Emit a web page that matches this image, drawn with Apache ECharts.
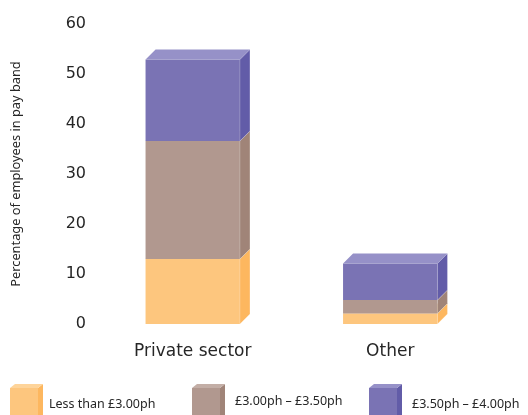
<!DOCTYPE html>
<html>
<head>
<meta charset="utf-8">
<script src="https://cdn.jsdelivr.net/npm/echarts@6/dist/echarts.min.js"></script>
<style>
  html, body { margin: 0; padding: 0; background: #ffffff; }
  #chart { width: 528px; height: 415px; }
</style>
</head>
<body>
<div id="chart"></div>
<script>
// Categories and stacked pay-band shares (% of employees)
const categories = ['Private sector', 'Other'];
const bandNames = ['Less than £3.00ph', '£3.00ph – £3.50ph', '£3.50ph – £4.00ph'];
const lessThan300 = [13.0, 2.1];
const from300to350 = [23.6, 2.7];
const from350to400 = [16.3, 7.3];
const yTicks = [0, 10, 20, 30, 40, 50, 60];

// Face shades for each band: front, side, top
const shades = [
  { front: '#fdc67e', side: '#fdb75f', top: '#fed49a' },
  { front: '#b1988f', side: '#a08478', top: '#c3aea6' },
  { front: '#7a73b4', side: '#625ca8', top: '#9691c8' }
];

const bands = [lessThan300, from300to350, from350to400];
const DEPTH = 10;
const FONT = '"Noto Sans", "Open Sans", sans-serif';
const WIDE_FONT = '"DejaVu Sans", sans-serif';
const TEXT_COLOR = '#262626';

// Build stacked [categoryIndex, base, top] rows per band
function stackedRows(bandIdx) {
  return categories.map((c, i) => {
    let base = 0;
    for (let k = 0; k < bandIdx; k++) base += bands[k][i];
    return [i, base, base + bands[bandIdx][i]];
  });
}

function renderBox(bandIdx) {
  const s = shades[bandIdx];
  return function (params, api) {
    const ci = api.value(0);
    const p0 = api.coord([ci, api.value(1)]);
    const p1 = api.coord([ci, api.value(2)]);
    const bw = api.size([1, 0])[0] * 0.478;
    const x0 = p0[0] - bw / 2;
    const x1 = p0[0] + bw / 2;
    const yb = p0[1];
    const yt = p1[1];
    const d = DEPTH;
    return {
      type: 'group',
      children: [
        {
          type: 'rect',
          shape: { x: x0, y: yt, width: bw, height: yb - yt },
          style: { fill: s.front }
        },
        {
          type: 'polygon',
          shape: { points: [[x1, yb], [x1 + d, yb - d], [x1 + d, yt - d], [x1, yt]] },
          style: { fill: s.side, stroke: 'rgba(255,255,255,0.35)', lineWidth: 0.6 }
        },
        {
          type: 'polygon',
          shape: { points: [[x0, yt], [x0 + d, yt - d], [x1 + d, yt - d], [x1, yt]] },
          style: { fill: s.top }
        }
      ]
    };
  };
}

// Legend drawn as small cubes with labels
const legendIconX = [10, 192, 369];
const legendTextX = [49, 235, 412];
const legendTextY = [404, 401, 404];
const legendGraphics = bandNames.map((name, k) => {
  const s = shades[k];
  const x = legendIconX[k];
  const w = 28, d = 5, yTop = 388;
  return {
    type: 'group',
    children: [
      { type: 'rect', shape: { x: x, y: yTop, width: w, height: 30 }, style: { fill: s.front } },
      { type: 'polygon', shape: { points: [[x + w, yTop], [x + w + d, yTop - 4], [x + w + d, 420], [x + w, 420]] }, style: { fill: s.side } },
      { type: 'polygon', shape: { points: [[x, yTop], [x + d, yTop - 4], [x + w + d, yTop - 4], [x + w, yTop]] }, style: { fill: s.top } },
      {
        type: 'text',
        x: legendTextX[k], y: legendTextY[k],
        style: { text: name, fill: TEXT_COLOR, font: '12.5px ' + FONT, textVerticalAlign: 'middle' }
      }
    ]
  };
});

const chart = echarts.init(document.getElementById('chart'), null, { renderer: 'canvas' });
chart.setOption({
  animation: false,
  backgroundColor: '#ffffff',
  grid: { left: 94, right: 39, top: 24, bottom: 91 },
  xAxis: {
    type: 'category',
    data: categories,
    axisLine: { show: false },
    axisTick: { show: false },
    axisLabel: { color: TEXT_COLOR, fontSize: 17, fontFamily: WIDE_FONT, margin: 19 }
  },
  yAxis: {
    type: 'value',
    min: yTicks[0],
    max: yTicks[yTicks.length - 1],
    interval: 10,
    name: 'Percentage of employees in pay band',
    nameLocation: 'middle',
    nameRotate: 90,
    nameGap: 71,
    nameTextStyle: { color: TEXT_COLOR, fontSize: 12.8, fontFamily: FONT },
    axisLine: { show: false },
    axisTick: { show: false },
    splitLine: { show: false },
    axisLabel: { color: TEXT_COLOR, fontSize: 16, fontFamily: WIDE_FONT, margin: 8, padding: [0, 0, 4, 0] }
  },
  series: bands.map((b, k) => ({
    type: 'custom',
    name: bandNames[k],
    renderItem: renderBox(k),
    encode: { x: 0, y: [1, 2] },
    data: stackedRows(k)
  })),
  graphic: legendGraphics
});
</script>
</body>
</html>
